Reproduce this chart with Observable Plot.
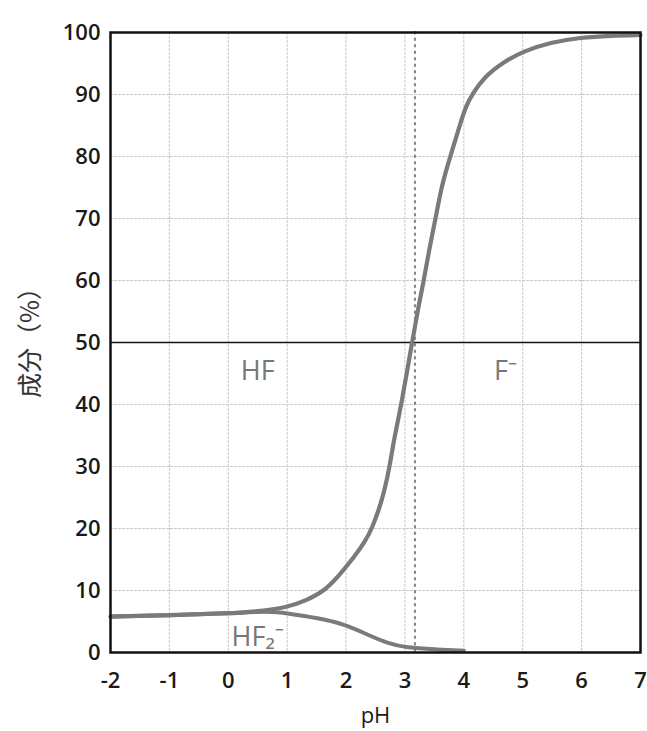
<!DOCTYPE html>
<html>
<head>
<meta charset="utf-8">
<script src="https://cdn.jsdelivr.net/npm/d3@7"></script>
<script src="https://cdn.jsdelivr.net/npm/@observablehq/plot@0.6"></script>
<style>
  html, body { margin: 0; padding: 0; background: #fff; }
  #chart { width: 647px; height: 731px; }
</style>
</head>
<body>
<div id="chart"></div>
<script>
// ---- data ----
const xTicks = [-2, -1, 0, 1, 2, 3, 4, 5, 6, 7];
const yTicks = [0, 10, 20, 30, 40, 50, 60, 70, 80, 90, 100];

const fPH  = [-2, -1, 0, 0.5, 1, 1.3, 1.65, 1.905, 2.13, 2.33, 2.44, 2.57, 2.65, 2.74, 2.81, 2.94, 3.12, 3.23, 3.32, 3.42, 3.52, 3.63, 3.77, 3.94, 4.03, 4.14, 4.34, 4.68, 5.02, 5.47, 5.98, 6.5, 7];
const fVal = [5.8, 6.0, 6.3, 6.6, 7.3, 8.3, 10, 12.7, 15.3, 18, 20, 23.4, 26, 30, 34.2, 40, 50, 55.8, 60, 65.4, 70, 75.6, 80, 85.3, 88, 90, 92.8, 95.3, 97.0, 98.4, 99.2, 99.5, 99.6];

const hf2PH  = [-2, -1, 0, 0.7, 1, 1.5, 1.96, 2.36, 2.7, 3.04, 3.5, 4.0];
const hf2Val = [5.8, 6.0, 6.3, 6.7, 6.3, 5.6, 4.6, 2.9, 1.5, 0.75, 0.5, 0.3];

const pKa = 3.17;
const halfLine = 50;

const labelText = ["HF", "F⁻", "HF₂⁻"];
const labelPH   = [0.5, 4.71, 0.5];
const labelVal  = [45.3, 45.3, 2.4];

const xLabel = "pH";
const yLabel = "成分（%）";

// ---- build tables ----
const fData = fPH.map((x, i) => ({x, y: fVal[i]}));
const hf2Data = hf2PH.map((x, i) => ({x, y: hf2Val[i]}));
const labels = labelText.map((t, i) => ({t, x: labelPH[i], y: labelVal[i]}));

const font = "'Open Sans', 'Noto Sans', sans-serif";
const cjkFont = "'Noto Sans CJK JP', 'Noto Sans CJK SC', sans-serif";
const curveColor = "#7a7a7a";

const chart = Plot.plot({
  width: 647,
  height: 731,
  marginLeft: 110,
  marginRight: 7,
  marginTop: 32,
  marginBottom: 79,
  style: {fontFamily: font, fontSize: "22px", color: "#1a1a1a", background: "#fff"},
  x: {domain: [-2, 7]},
  y: {domain: [0, 100]},
  marks: [
    Plot.gridX(xTicks, {stroke: "#c8c8c8", strokeOpacity: 1, strokeWidth: 1, strokeDasharray: "3,1"}),
    Plot.gridY(yTicks, {stroke: "#c8c8c8", strokeOpacity: 1, strokeWidth: 1, strokeDasharray: "3,1"}),
    Plot.ruleY([halfLine], {stroke: "#111", strokeWidth: 1.5}),
    Plot.ruleX([pKa], {stroke: "#888", strokeWidth: 2.2, strokeDasharray: "1.5,5", strokeLinecap: "round"}),
    Plot.line(hf2Data, {x: "x", y: "y", stroke: curveColor, strokeWidth: 4, curve: "basis"}),
    Plot.line(fData, {x: "x", y: "y", stroke: curveColor, strokeWidth: 4.2, curve: "basis"}),
    Plot.text(labels, {x: "x", y: "y", text: "t", textAnchor: "middle", lineAnchor: "middle", fill: "#777", fontSize: 27, fontFamily: font}),
    Plot.frame({stroke: "#111", strokeWidth: 2.5}),
    Plot.axisX(xTicks, {tickSize: 0, tickPadding: 20, tickFormat: d => String(d), label: null, fontSize: 22, fontWeight: 600, fill: "#1a1a1a"}),
    Plot.axisY(yTicks, {tickSize: 0, tickPadding: 10, tickFormat: d => String(d), label: null, fontSize: 22, fontWeight: 600, fill: "#1a1a1a"}),
    Plot.text([xLabel], {frameAnchor: "bottom", dy: 63, lineAnchor: "middle", fontSize: 22, fill: "#1a1a1a", fontFamily: font}),
    Plot.text([yLabel], {frameAnchor: "left", dx: -80, dy: -6, rotate: -90, textAnchor: "middle", lineAnchor: "middle", fontSize: 25, fill: "#333", fontFamily: cjkFont})
  ]
});
document.getElementById("chart").appendChild(chart);
</script>
</body>
</html>
